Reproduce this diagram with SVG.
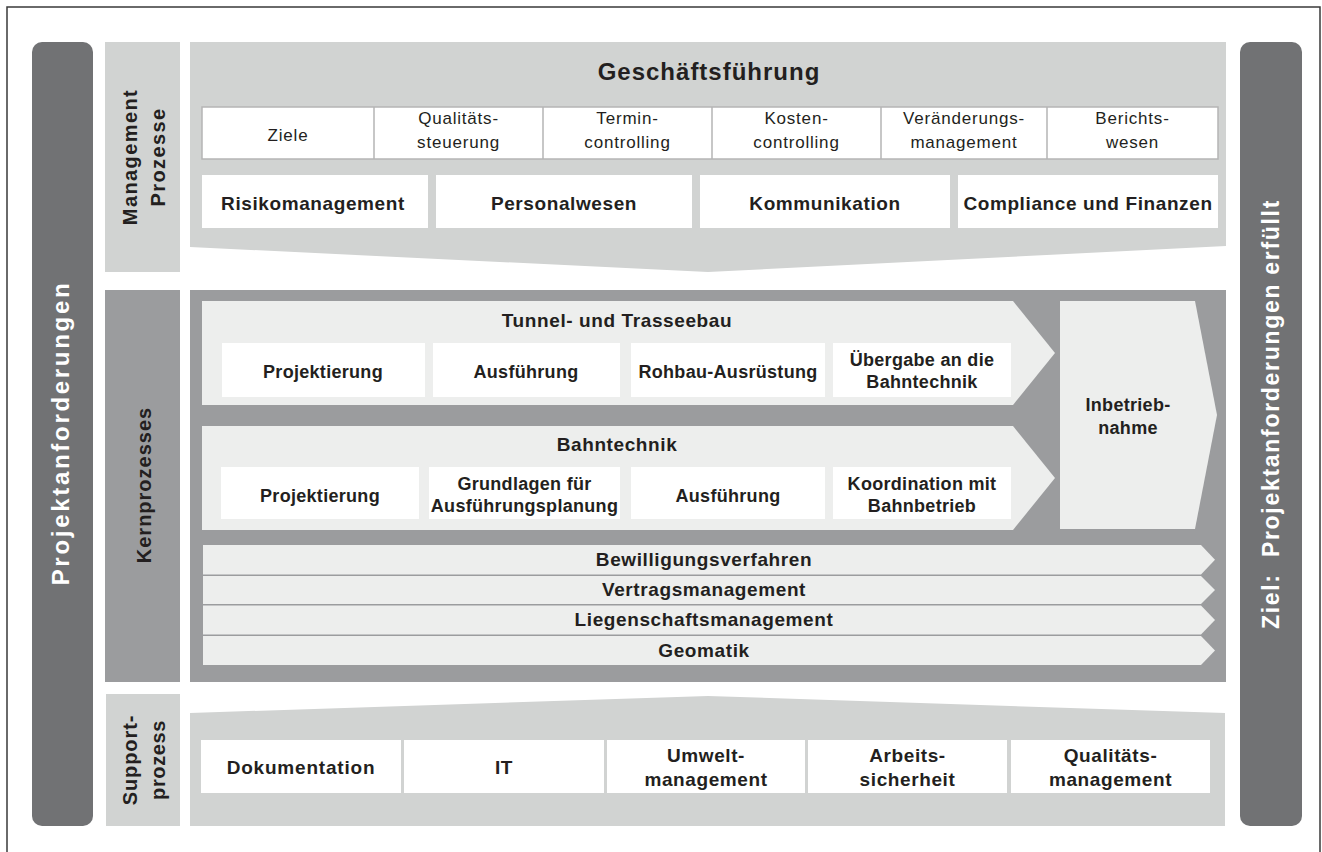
<svg xmlns="http://www.w3.org/2000/svg" width="1322" height="852" viewBox="0 0 1322 852">
<style>
text{font-family:"Liberation Sans",Arial,sans-serif;fill:#231f20;text-anchor:middle}
.b{font-weight:bold}
.t24{font-size:24px;letter-spacing:1px}
.r17{font-size:17px;letter-spacing:0.8px}
.b19{font-size:19px;letter-spacing:0.6px}
.b18{font-size:18px;letter-spacing:0.3px}
.v20{font-size:20px;letter-spacing:1.4px;font-weight:bold}
.side{fill:#717274}
.lt{fill:#d1d3d2}
.kern{fill:#9b9c9e}
.chev{fill:#edeeed}
.wb{fill:#ffffff}
.wt{fill:#ffffff;font-weight:bold}
</style>
<rect width="1322" height="852" fill="#ffffff"/>
<path d="M7,860 V7 H1320 V860" fill="none" stroke="#3a3a3a" stroke-width="1.5"/>

<g id="projektanforderungen">
<rect class="side" x="32" y="42" width="61" height="784" rx="10"/>
<text class="wt" transform="translate(69,433) rotate(-90)" style="font-size:24px;letter-spacing:2.7px">Projektanforderungen</text>
</g>

<g id="ziel">
<rect class="side" x="1240" y="42" width="62" height="784" rx="10"/>
<text class="wt" transform="translate(1279,414) rotate(-90)" style="font-size:23px;letter-spacing:1.7px">Ziel:&#160; Projektanforderungen erfüllt</text>
</g>

<g id="management-label">
<rect class="lt" x="105" y="42" width="75" height="230"/>
<text class="v20" transform="translate(137,157) rotate(-90)">Management</text>
<text class="v20" transform="translate(165,157) rotate(-90)">Prozesse</text>
</g>

<g id="management">
<polygon class="lt" points="190,42 1226,42 1226,246 708,272 190,247"/>
<text class="b t24" x="709" y="80">Geschäftsführung</text>
<rect x="202" y="107" width="1016" height="52" fill="#fff" stroke="#b5b5b5" stroke-width="1.5"/>
<path d="M374,107V159M543,107V159M712,107V159M881,107V159M1047,107V159" stroke="#b5b5b5" stroke-width="1.5"/>
<text class="r17" x="288" y="141">Ziele</text>
<text class="r17" x="458.5" y="124">Qualitäts-</text>
<text class="r17" x="458.5" y="148">steuerung</text>
<text class="r17" x="627.5" y="124">Termin-</text>
<text class="r17" x="627.5" y="148">controlling</text>
<text class="r17" x="796.5" y="124">Kosten-</text>
<text class="r17" x="796.5" y="148">controlling</text>
<text class="r17" x="964" y="124">Veränderungs-</text>
<text class="r17" x="964" y="148">management</text>
<text class="r17" x="1132.5" y="124">Berichts-</text>
<text class="r17" x="1132.5" y="148">wesen</text>
<rect class="wb" x="202" y="175" width="226" height="53"/>
<rect class="wb" x="436" y="175" width="256" height="53"/>
<rect class="wb" x="700" y="175" width="250" height="53"/>
<rect class="wb" x="958" y="175" width="260" height="53"/>
<text class="b b19" x="313" y="210">Risikomanagement</text>
<text class="b b19" x="564" y="210">Personalwesen</text>
<text class="b b19" x="825" y="210">Kommunikation</text>
<text class="b b19" x="1088" y="210">Compliance und Finanzen</text>
</g>

<g id="kern-label">
<rect class="kern" x="105" y="290" width="75" height="392"/>
<text class="v20" transform="translate(151,485) rotate(-90)" style="letter-spacing:1px">Kernprozesses</text>
</g>

<g id="kern">
<rect class="kern" x="190" y="290" width="1036" height="392"/>
</g>

<g id="tunnel">
<polygon class="chev" points="202,301 1013,301 1055,353 1013,405 202,405"/>
<text class="b b19" x="617" y="327">Tunnel- und Trasseebau</text>
<rect class="wb" x="222" y="343" width="203" height="54"/>
<rect class="wb" x="433" y="343" width="187" height="54"/>
<rect class="wb" x="631" y="343" width="194" height="54"/>
<rect class="wb" x="833" y="343" width="178" height="54"/>
<text class="b b18" x="323" y="378">Projektierung</text>
<text class="b b18" x="526" y="378">Ausführung</text>
<text class="b b18" x="728" y="378">Rohbau-Ausrüstung</text>
<text class="b b18" x="922" y="366">Übergabe an die</text>
<text class="b b18" x="922" y="388">Bahntechnik</text>
</g>

<g id="bahntechnik">
<polygon class="chev" points="202,426 1013,426 1055,478 1013,530 202,530"/>
<text class="b b19" x="617" y="451">Bahntechnik</text>
<rect class="wb" x="221" y="467" width="198" height="52"/>
<rect class="wb" x="429" y="467" width="191" height="52"/>
<rect class="wb" x="631" y="467" width="194" height="52"/>
<rect class="wb" x="833" y="467" width="178" height="52"/>
<text class="b b18" x="320" y="502">Projektierung</text>
<text class="b b18" x="524.5" y="490">Grundlagen für</text>
<text class="b b18" x="524.5" y="512">Ausführungsplanung</text>
<text class="b b18" x="728" y="502">Ausführung</text>
<text class="b b18" x="922" y="490">Koordination mit</text>
<text class="b b18" x="922" y="512">Bahnbetrieb</text>
</g>

<g id="inbetriebnahme">
<polygon class="chev" points="1060,301 1195,301 1217,415 1195,529 1060,529"/>
<text class="b b18" x="1128" y="411">Inbetrieb-</text>
<text class="b b18" x="1128" y="434">nahme</text>
</g>

<g id="bewilligungsverfahren">
<polygon class="chev" points="203,545 1201,545 1215,559.7 1201,574.5 203,574.5"/>
<text class="b b19" x="704" y="566">Bewilligungsverfahren</text>
</g>
<g id="vertragsmanagement">
<polygon class="chev" points="203,576 1201,576 1215,590 1201,604 203,604"/>
<text class="b b19" x="704" y="596">Vertragsmanagement</text>
</g>
<g id="liegenschaftsmanagement">
<polygon class="chev" points="203,605.5 1201,605.5 1215,620 1201,634.5 203,634.5"/>
<text class="b b19" x="704" y="626">Liegenschaftsmanagement</text>
</g>
<g id="geomatik">
<polygon class="chev" points="203,636 1201,636 1215,650.5 1201,665 203,665"/>
<text class="b b19" x="704" y="657">Geomatik</text>
</g>

<g id="support-label">
<rect class="lt" x="106" y="694" width="74" height="132"/>
<text class="v20" transform="translate(137,760) rotate(-90)" style="letter-spacing:0.9px">Support-</text>
<text class="v20" transform="translate(165,760) rotate(-90)" style="letter-spacing:0.6px">prozess</text>
</g>

<g id="support">
<polygon class="lt" points="190,713 708,696 1225,713 1225,826 190,826"/>
<rect class="wb" x="201" y="740" width="200" height="53"/>
<rect class="wb" x="404" y="740" width="200" height="53"/>
<rect class="wb" x="607" y="740" width="198" height="53"/>
<rect class="wb" x="808" y="740" width="199" height="53"/>
<rect class="wb" x="1011" y="740" width="199" height="53"/>
<text class="b b19" x="301" y="774" style="letter-spacing:0.8px">Dokumentation</text>
<text class="b b19" x="504" y="774">IT</text>
<text class="b b19" x="706" y="762">Umwelt-</text>
<text class="b b19" x="706" y="786">management</text>
<text class="b b19" x="907.5" y="762">Arbeits-</text>
<text class="b b19" x="907.5" y="786">sicherheit</text>
<text class="b b19" x="1110.5" y="762">Qualitäts-</text>
<text class="b b19" x="1110.5" y="786">management</text>
</g>

<g id="connectors"></g>
</svg>
